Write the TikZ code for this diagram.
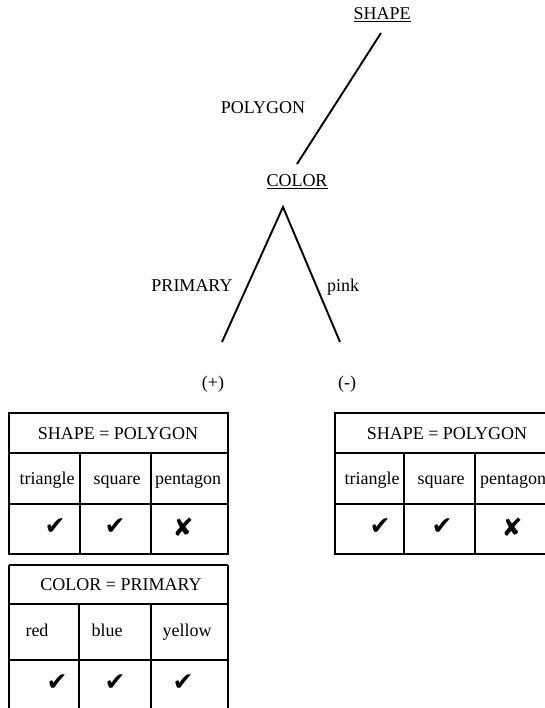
\documentclass[tikz,border=0pt]{standalone}
\usepackage{fontspec}
\setmainfont{Liberation Serif}
\newfontfamily\symfont{DejaVu Sans}
\begin{document}
\begin{tikzpicture}[x=1pt,y=-1pt,
  lbl/.style={font=\fontsize{18}{21}\selectfont, inner sep=0pt, anchor=base},
  sym/.style={font=\symfont\fontsize{25}{28}\selectfont, inner sep=0pt},
  edge/.style={line width=1.9pt},
  grid/.style={line width=1.3pt}]
\useasboundingbox (0,0) rectangle (545,708);
\clip (0,0) rectangle (545,708);

% tree
\node[lbl] (shape) at (382,20) {\underline{SHAPE}};
\node[lbl] (color) at (297,187) {\underline{COLOR}};
\node[lbl] (polygon) at (263,114) {POLYGON};
\node[lbl] (primary) at (192,291) {PRIMARY};
\node[lbl] (pinklbl) at (343,291) {pink};
\node[lbl] (plus) at (213,388) {(+)};
\node[lbl] (minus) at (347,388) {(-)};

\coordinate (shapeb) at (381,33);
\coordinate (colort) at (297,164);
\coordinate (colorb) at (283,207);
\coordinate (plust) at (222,342);
\coordinate (minust) at (340,342);
\draw[edge] (shapeb) -- (colort);
\draw[edge] (plust) -- (colorb) -- (minust);

% left table 1
\draw[grid] (9,413) rectangle (228,554);
\draw[grid] (9,453) -- (228,453);
\draw[grid] (9,504) -- (228,504);
\draw[grid] (80,453) -- (80,554);
\draw[grid] (151,453) -- (151,554);
\node[lbl] (h1) at (118,439) {SHAPE = POLYGON};
\node[lbl] (t1a) at (47,484) {triangle};
\node[lbl] (t1b) at (117,484) {square};
\node[lbl] (t1c) at (188,484) {pentagon};
\node[sym] (c1a) at (55,527) {✔};
\node[sym] (c1b) at (115,527) {✔};
\node[sym] (c1c) at (183,527) {✘};

% left table 2
\draw[grid] (9,565) -- (228,565);
\draw[grid] (9,565) -- (9,720);
\draw[grid] (228,565) -- (228,720);
\draw[grid] (9,604) -- (228,604);
\draw[grid] (9,660) -- (228,660);
\draw[grid] (79,604) -- (79,720);
\draw[grid] (151,604) -- (151,720);
\node[lbl] (h2) at (121,590) {COLOR = PRIMARY};
\node[lbl] (t2a) at (37,636) {red};
\node[lbl] (t2b) at (107,636) {blue};
\node[lbl] (t2c) at (187,636) {yellow};
\node[sym] (c2a) at (57,683) {✔};
\node[sym] (c2b) at (115,683) {✔};
\node[sym] (c2c) at (183,683) {✔};

% right table
\draw[grid] (335,413) rectangle (556,554);
\draw[grid] (335,453) -- (556,453);
\draw[grid] (335,504) -- (556,504);
\draw[grid] (404,453) -- (404,554);
\draw[grid] (475,453) -- (475,554);
\node[lbl] (h3) at (447,439) {SHAPE = POLYGON};
\node[lbl] (t3a) at (372,484) {triangle};
\node[lbl] (t3b) at (441,484) {square};
\node[lbl] (t3c) at (513,484) {pentagon};
\node[sym] (c3a) at (380,527) {✔};
\node[sym] (c3b) at (442,527) {✔};
\node[sym] (c3c) at (512,527) {✘};
\end{tikzpicture}
\end{document}
